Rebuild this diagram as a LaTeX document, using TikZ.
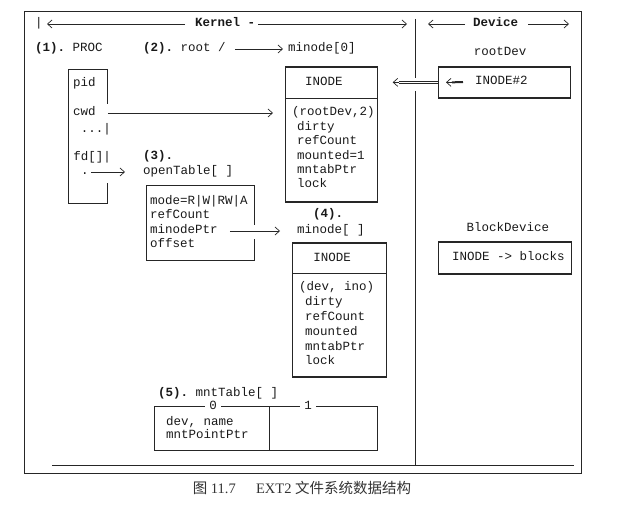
\documentclass[tikz,border=0pt]{standalone}
\usepackage{fontspec}
\setmainfont{Liberation Serif}
\setmonofont{Liberation Mono}
\newfontfamily\cjk{Noto Sans CJK SC}
\usetikzlibrary{arrows.meta,calc}

\begin{document}
\begin{tikzpicture}[x=1pt, y=-1pt,
    ink/.style={draw=black!85, line width=0.7pt},
    tt/.style={font=\ttfamily\fontsize{12.5}{14.5}\selectfont, text=black!90, inner sep=0pt, text height=8.5pt, text depth=2.5pt, anchor=west},
    ttb/.style={tt, font=\ttfamily\bfseries\fontsize{12.5}{14.5}\selectfont},
    ptr/.style={ink, -{Straight Barb[length=4.5pt,width=8pt]}},
    heavy/.style={draw=black!85, line width=2pt},
    boxnode/.style={ink, inner sep=0pt, anchor=north west}]
    \useasboundingbox (0,0) rectangle (632,521);

    % frame
    \draw[ink] (24,11) rectangle (581,473);
    \draw[ink] (52,465) -- (574,465);
    \draw[ink] (415,19) -- (415,78) (415,91) -- (415,465);

    % header row
    \node[tt] (kbar) at (35,24) {|};
    \node[ttb] (kernel) at (195,24) {Kernel -};
    \coordinate (kl) at (47,24);
    \coordinate (kr) at (407,24);
    \draw[ptr] ($(kernel.west)+(-10,0)$) -- (kl);
    \draw[ptr] ($(kernel.east)+(3,0)$) -- (kr);
    \node[ttb] (device) at (473,24) {Device};
    \coordinate (dl) at (428,24);
    \coordinate (dr) at (569,24);
    \draw[ptr] ($(device.west)+(-8,0)$) -- (dl);
    \draw[ptr] ($(device.east)+(10,0)$) -- (dr);

    % (1) PROC
    \node[tt] (proc) at (35,49) {\textbf{(1).} PROC};
    \draw[ink] (107,104) -- (107,69) -- (68,69) -- (68,203) -- (107,203) -- (107,183);
    \node[tt] (pid) at (73,84) {pid};
    \node[tt] (cwd) at (73,113) {cwd};
    \node[tt, anchor=east] (dots) at (111,130) {...|};
    \node[tt, anchor=east] (fd) at (111,158) {fd[]|};
    \node[tt] (fdot) at (81,172) {.};

    % (2) root
    \node[tt] (root) at (143,49) {\textbf{(2).} root /};
    \node[tt] (m0) at (288,49) {minode[0]};
    \draw[ptr] ($(root.east)+(9,0)$) -- ($(m0.west)+(-5,0)$);

    % minode[0]
    \node[boxnode, minimum width=92pt, minimum height=134pt] (inA) at (285,67) {};
    \draw[heavy] (inA.north west) -- (inA.north east);
    \draw[heavy] (inA.south west) -- (inA.south east);
    \draw[ink] ($(inA.north west)+(0,31)$) -- ($(inA.north east)+(0,31)$);
    \node[tt, anchor=center] (hA) at (324,83) {INODE};
    \node[tt] (kA) at (292,113) {(rootDev,2)};
    \foreach \f [count=\i] in {dirty,refCount,mounted=1,mntabPtr,lock}
        \node[tt] (fA\i) at (297,{113+14.4*\i}) {\f};
    \draw[ptr] ($(cwd.east)+(12,0)$) -- ($(inA.west |- cwd.west)+(-12,0)$);

    % (3) openTable
    \node[ttb] (p3) at (143,157) {(3).};
    \node[tt] (ot) at (143,172) {openTable[ ]};
    \draw[ptr] ($(fdot.east)+(2,0)$) -- ($(ot.west)+(-18,0)$);
    \draw[ink] (254,225) -- (254,185) -- (146,185) -- (146,260) -- (254,260) -- (254,239);
    \node[tt] (mode) at (150,202) {mode=R|W|RW|A};
    \node[tt] (orc) at (150,216) {refCount};
    \node[tt] (mptr) at (150,231) {minodePtr};
    \node[tt] (off) at (150,245) {offset};

    % (4) minode[ ]
    \node[ttb, anchor=center] (p4) at (328,215) {(4).};
    \node[tt] (m1) at (297,231) {minode[ ]};
    \draw[ptr] ($(mptr.east)+(12,0)$) -- ($(m1.west)+(-17,0)$);
    \node[boxnode, minimum width=94pt, minimum height=133pt] (inB) at (292,243) {};
    \draw[heavy] (inB.north west) -- (inB.north east);
    \draw[heavy] (inB.south west) -- (inB.south east);
    \draw[ink] ($(inB.north west)+(0,30)$) -- ($(inB.north east)+(0,30)$);
    \node[tt, anchor=center] (hB) at (332,259) {INODE};
    \node[tt] (kB) at (299,288) {(dev, ino)};
    \foreach \f [count=\i] in {dirty,refCount,mounted,mntabPtr,lock}
        \node[tt] (fB\i) at (305,{288+14.8*\i}) {\f};

    % device side
    \node[tt, anchor=center] (rdev) at (500,53) {rootDev};
    \node[boxnode, minimum width=132pt, minimum height=30pt] (rbox) at (438,67) {};
    \draw[heavy] (rbox.north west) -- (rbox.north east);
    \draw[heavy] (rbox.south west) -- (rbox.south east);
    \node[tt] (i2) at (475,82) {INODE\#2};
    \coordinate (i2tip) at ($(rbox.west)+(14,0)$);
    \draw[heavy] ($(i2.west)+(-12,0)$) -- (i2tip);
    \draw[ptr] (i2tip) -- ($(rbox.west)+(8,0)$);
    \coordinate (rtip) at ($(inA.east |- rbox.west)+(21,0)$);
    \draw[ink, double, double distance=1.3pt] (rbox.west) -- (rtip);
    \draw[ptr] (rtip) -- ($(inA.east |- rbox.west)+(15,0)$);

    \node[tt, anchor=center] (bdev) at (508,229) {BlockDevice};
    \node[boxnode, minimum width=133pt, minimum height=31pt] (bbox) at (438,242) {};
    \draw[heavy] (bbox.north west) -- (bbox.north east);
    \draw[heavy] (bbox.south west) -- (bbox.south east);
    \node[tt] (blk) at (452,258) {INODE -> blocks};

    % (5) mntTable
    \node[tt] (p5) at (158,393) {\textbf{(5).} mntTable[ ]};
    \draw[ink] (154,406) rectangle (377,450);
    \draw[ink] (269,406) -- (269,450);
    \node[tt, anchor=center, fill=white, inner xsep=4pt] (e0) at (213,406) {0};
    \node[tt, anchor=center, fill=white, inner xsep=4pt] (e1) at (308,406) {1};
    \node[tt] (dn) at (166,422) {dev, name};
    \node[tt] (mp) at (166,435) {mntPointPtr};

    % caption
    \node[font=\fontsize{14.5}{16}\selectfont, text=black!80] (cap) at (302,488)
        {{\cjk 图} 11.7\hspace{1.4em}EXT2 {\cjk 文件系统数据结构}};
\end{tikzpicture}
\end{document}
